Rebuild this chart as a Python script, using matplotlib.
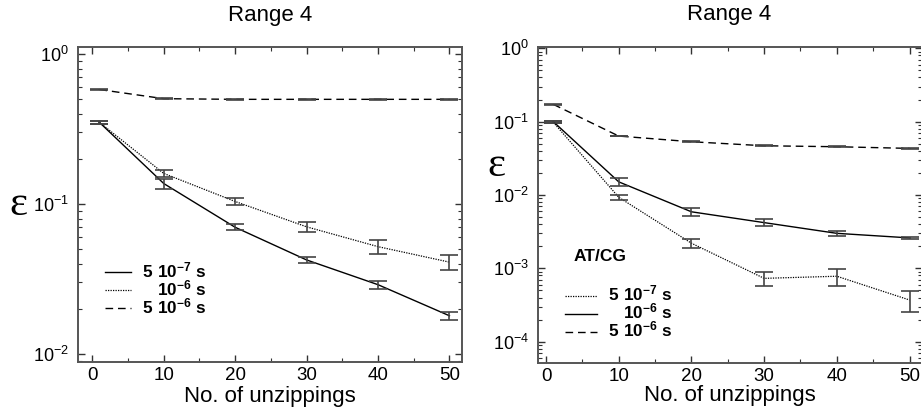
import matplotlib
matplotlib.use("Agg")
import matplotlib.pyplot as plt
from matplotlib.lines import Line2D
from matplotlib.ticker import LogLocator, MultipleLocator, NullFormatter

plt.rcParams['font.family'] = ['Liberation Sans', 'DejaVu Sans']
plt.rcParams['mathtext.fontset'] = 'custom'
plt.rcParams['mathtext.rm'] = 'Liberation Sans'
plt.rcParams['mathtext.bf'] = 'Liberation Sans:bold'
plt.rcParams['mathtext.default'] = 'regular'

# ---------------- data ----------------
x = [1, 10, 20, 30, 40, 50]

# left panel ("Range 4")
left_5e7 = [0.350, 0.137, 0.0700, 0.0424, 0.0290, 0.0180]
left_5e7_err = [0.008, 0.011, 0.0033, 0.0020, 0.0017, 0.0011]
left_1e6 = [0.350, 0.160, 0.104, 0.0705, 0.052, 0.041]
left_1e6_err = [0.008, 0.008, 0.0055, 0.0058, 0.0055, 0.0045]
left_5e6 = [0.580, 0.504, 0.499, 0.499, 0.499, 0.499]
left_5e6_err = [0.004, 0.003, 0.003, 0.003, 0.003, 0.003]

# right panel ("Range 4", AT/CG)
right_5e7 = [0.098, 0.0093, 0.0022, 0.00073, 0.00078, 0.00037]
right_5e7_err = [0.003, 0.0007, 0.00032, 0.00016, 0.0002, 0.00012]
right_1e6 = [0.100, 0.0151, 0.0059, 0.0042, 0.0030, 0.0026]
right_1e6_err = [0.003, 0.0020, 0.0007, 0.00045, 0.0002, 0.0001]
right_5e6 = [0.172, 0.0636, 0.0532, 0.0469, 0.0455, 0.0432]
right_5e6_err = [0.003, 0.0008, 0.0006, 0.0005, 0.0005, 0.0005]

labels = [r'$\mathbf{5\ 10^{-7}\ s}$', r'$\mathbf{10^{-6}\ s}$', r'$\mathbf{5\ 10^{-6}\ s}$']
title_text = "Range 4"
xlabel_text = "No. of unzippings"
ylabel_text = "ε"

DOT = (0, (1, 1))
DASH = (0, (5.5, 3.5))
SPINE = '#555555'
ECOL = '#444444'

fig = plt.figure(figsize=(9.21, 4.16), dpi=100)
W, H = 921, 416

def add_axes(x0, x1, ytop, ybot):
    return fig.add_axes([x0 / W, 1 - ybot / H, (x1 - x0) / W, (ybot - ytop) / H])

axL = add_axes(77.7, 462.3, 47, 362)
axR = add_axes(537.7, 921.5, 46.7, 363.3)

def style(ax):
    ax.set_yscale('log')
    ax.xaxis.set_major_locator(MultipleLocator(10))
    ax.xaxis.set_minor_locator(MultipleLocator(5))
    ax.yaxis.set_major_locator(LogLocator(base=10, numticks=20))
    ax.yaxis.set_minor_locator(LogLocator(base=10, subs=range(2, 10), numticks=20))
    ax.yaxis.set_minor_formatter(NullFormatter())
    ax.tick_params(which='both', direction='in', top=True, right=True, color='#333333')
    ax.tick_params(which='major', length=5, width=1.0)
    ax.tick_params(which='minor', length=3, width=0.8)
    ax.tick_params(axis='y', pad=6.5, labelsize=13)
    ax.tick_params(axis='x', pad=3.5, labelsize=13.5)
    for s in ax.spines.values():
        s.set_color(SPINE)
        s.set_linewidth(1.4)
    ax.set_title(title_text, fontsize=16, pad=19)

def draw(ax, ys, errs, styles):
    for y, e, ls in zip(ys, errs, styles):
        ax.plot(x, y, color='black', lw=1.0 if ls != DOT else 0.9, linestyle=ls)
        ax.errorbar(x, y, yerr=e, fmt='none', ecolor=ECOL, elinewidth=1.2,
                    capsize=6.5, capthick=1.2)

def manual_legend(ax, line_x0, line_x1, text_x, rows_line, rows_text, styles):
    for yl, yt, ls, lab in zip(rows_line, rows_text, styles, labels):
        ax.add_line(Line2D([line_x0, line_x1], [yl, yl], transform=ax.transAxes,
                           color='black', lw=1.0 if ls != DOT else 0.9, linestyle=ls))
        ax.text(text_x, yt, lab, transform=ax.transAxes, ha='right', va='baseline',
                fontsize=12.3)

def ax_xy(px, py, x0, x1, yt, yb):
    return (px - x0) / (x1 - x0), 1 - (py - yt) / (yb - yt)

# left panel
style(axL)
stylesL = ['-', DOT, DASH]
draw(axL, [left_5e7, left_1e6, left_5e6], [left_5e7_err, left_1e6_err, left_5e6_err], stylesL)
axL.set_xlim(-2.05, 51.8)
axL.set_ylim(10 ** -2.053, 10 ** 0.047)
L = (77.7, 462.3, 47, 362)
axL.set_xlabel(xlabel_text, fontsize=16, va='top')
axL.xaxis.set_label_coords(0.5, ax_xy(0, 386, *L)[1])
axL.text(-0.155, 0.5, ylabel_text, transform=axL.transAxes, fontsize=31,
         family='Liberation Serif', ha='center', va='center')
lx0, r1 = ax_xy(105, 272, *L)
lx1, r2 = ax_xy(130.7, 290, *L)
tx, r3 = ax_xy(206.5, 308, *L)
_, b1 = ax_xy(0, 277.5, *L)
_, b2 = ax_xy(0, 295.5, *L)
_, b3 = ax_xy(0, 313.5, *L)
manual_legend(axL, lx0, lx1, tx, [r1, r2, r3], [b1, b2, b3], stylesL)

# right panel
style(axR)
stylesR = [DOT, '-', DASH]
draw(axR, [right_5e7, right_1e6, right_5e6], [right_5e7_err, right_1e6_err, right_5e6_err], stylesR)
axR.set_xlim(-1.15, 51.65)
axR.set_ylim(10 ** -4.295, 10 ** 0.022)
R = (537.7, 921.5, 46.7, 363.3)
axR.set_xlabel(xlabel_text, fontsize=16, va='top')
axR.xaxis.set_label_coords(0.5, ax_xy(0, 384.5, *R)[1])
axR.text(-0.107, 0.625, ylabel_text, transform=axR.transAxes, fontsize=31,
         family='Liberation Serif', ha='center', va='center')
lx0, r1 = ax_xy(565, 295.5, *R)
lx1, r2 = ax_xy(597, 313.5, *R)
tx, r3 = ax_xy(672.5, 331.5, *R)
_, b1 = ax_xy(0, 300.5, *R)
_, b2 = ax_xy(0, 318.5, *R)
_, b3 = ax_xy(0, 336.5, *R)
manual_legend(axR, lx0, lx1, tx, [r1, r2, r3], [b1, b2, b3], stylesR)
ax_, ay_ = ax_xy(573.3, 261, *R)
axR.text(ax_, ay_, "AT/CG", transform=axR.transAxes, ha='left', va='baseline',
         fontsize=12.5, fontweight='bold')

fig.savefig("out.png", dpi=100)
